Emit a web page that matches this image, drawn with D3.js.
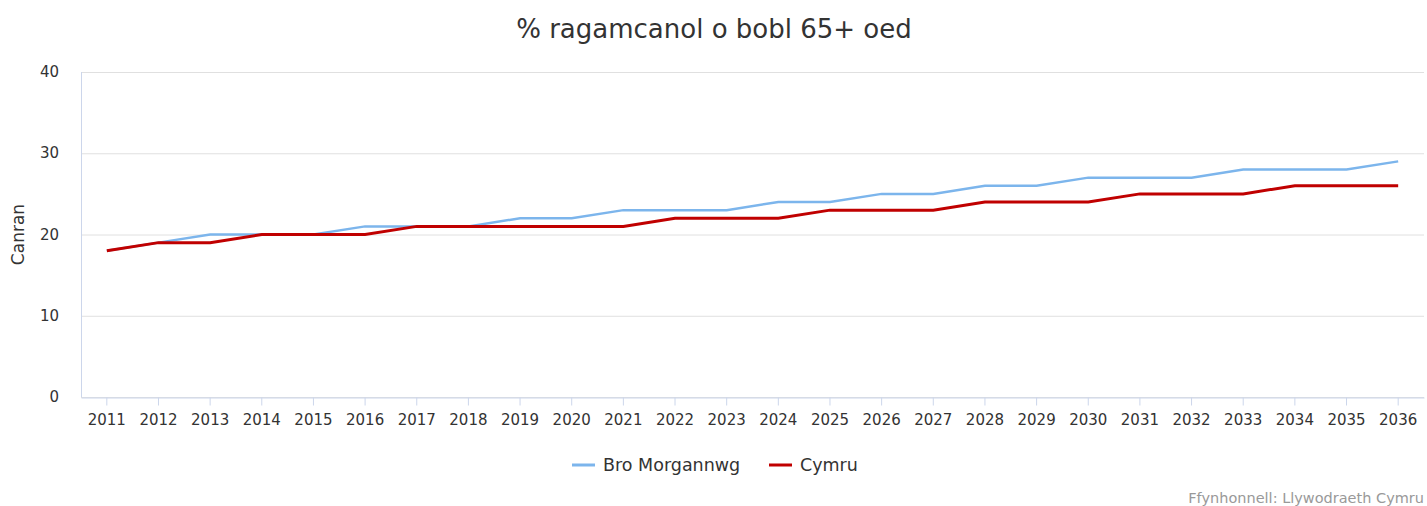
<!DOCTYPE html>
<html>
<head>
<meta charset="utf-8">
<script src="https://cdn.jsdelivr.net/npm/d3@7"></script>
<style>
  body { margin: 0; background: #fff; font-family: "DejaVu Sans", Verdana, sans-serif; }
  .axis text { font-size: 15px; fill: #333; }
</style>
</head>
<body>
<div id="chart"></div>
<script>
const years = ["2011","2012","2013","2014","2015","2016","2017","2018","2019","2020","2021","2022","2023",
  "2024","2025","2026","2027","2028","2029","2030","2031","2032","2033","2034","2035","2036"]
const broMorgannwg = [18,19,20,20,20,21,21,21,22,22,23,23,23,24,24,25,25,26,26,27,27,27,28,28,28,29]
const cymru = [18,19,19,20,20,20,21,21,21,21,21,22,22,22,23,23,23,24,24,24,25,25,25,26,26,26]
const yTicks = [0, 10, 20, 30, 40]
const seriesNames = ["Bro Morgannwg", "Cymru"]

const W = 1427, H = 506
const plot = { left: 81, right: 1424, top: 72, bottom: 397 }

const svg = d3.select("#chart").append("svg")
  .attr("width", W).attr("height", H)

const x = d3.scaleBand().domain(years).range([plot.left, plot.right]).padding(0)
const y = d3.scaleLinear().domain([0, 40]).range([plot.bottom, plot.top])

// gridlines
svg.append("g")
  .selectAll("line")
  .data(yTicks)
  .join("line")
  .attr("x1", plot.left).attr("x2", plot.right)
  .attr("y1", d => y(d) + 0.5).attr("y2", d => y(d) + 0.5)
  .attr("stroke", "#e0e0e0").attr("stroke-width", 1)

// y axis line
svg.append("line")
  .attr("x1", plot.left + 0.5).attr("x2", plot.left + 0.5)
  .attr("y1", plot.top).attr("y2", plot.bottom)
  .attr("stroke", "#ccd6eb")

// x axis
const xAxis = svg.append("g")
  .attr("class", "axis")
  .attr("transform", "translate(0," + (plot.bottom + 0.5) + ")")
  .call(d3.axisBottom(x).tickSize(8).tickSizeOuter(0).tickPadding(9))
xAxis.select(".domain").attr("stroke", "#ccd6eb")
xAxis.selectAll(".tick line").attr("stroke", "#ccd6eb")
xAxis.selectAll("text").attr("font-family", "DejaVu Sans, sans-serif")

// y tick labels
svg.append("g")
  .attr("class", "axis")
  .selectAll("text")
  .data(yTicks)
  .join("text")
  .attr("x", 59)
  .attr("y", d => y(d) + 5)
  .attr("text-anchor", "end")
  .text(d => d)

// y title
svg.append("text")
  .attr("transform", "translate(24," + ((plot.top + plot.bottom) / 2) + ") rotate(-90)")
  .attr("text-anchor", "middle")
  .attr("font-size", 17)
  .attr("fill", "#333")
  .text("Canran")

// title
svg.append("text")
  .attr("x", 714).attr("y", 38)
  .attr("text-anchor", "middle")
  .attr("font-size", 26)
  .attr("fill", "#333")
  .text("% ragamcanol o bobl 65+ oed")

const line = d3.line()
  .x((d, i) => x(years[i]) + x.bandwidth() / 2)
  .y(d => y(d))

svg.append("path")
  .datum(broMorgannwg)
  .attr("fill", "none")
  .attr("stroke", "#7cb5ec")
  .attr("stroke-width", 2.5)
  .attr("d", line)

svg.append("path")
  .datum(cymru)
  .attr("fill", "none")
  .attr("stroke", "#c00000")
  .attr("stroke-width", 3)
  .attr("d", line)

// legend
const legend = svg.append("g")
const legendItems = [
  { name: seriesNames[0], color: "#7cb5ec", x: 572 },
  { name: seriesNames[1], color: "#c00000", x: 769 }
]
legendItems.forEach(d => {
  legend.append("line")
    .attr("x1", d.x).attr("x2", d.x + 23)
    .attr("y1", 465).attr("y2", 465)
    .attr("stroke", d.color).attr("stroke-width", 3)
  legend.append("text")
    .attr("x", d.x + 31).attr("y", 471)
    .attr("font-size", 17.5).attr("fill", "#333")
    .text(d.name)
})

// source
svg.append("text")
  .attr("x", 1424).attr("y", 503)
  .attr("text-anchor", "end")
  .attr("font-size", 14.5)
  .attr("fill", "#999")
  .text("Ffynhonnell: Llywodraeth Cymru")
</script>
</body>
</html>
